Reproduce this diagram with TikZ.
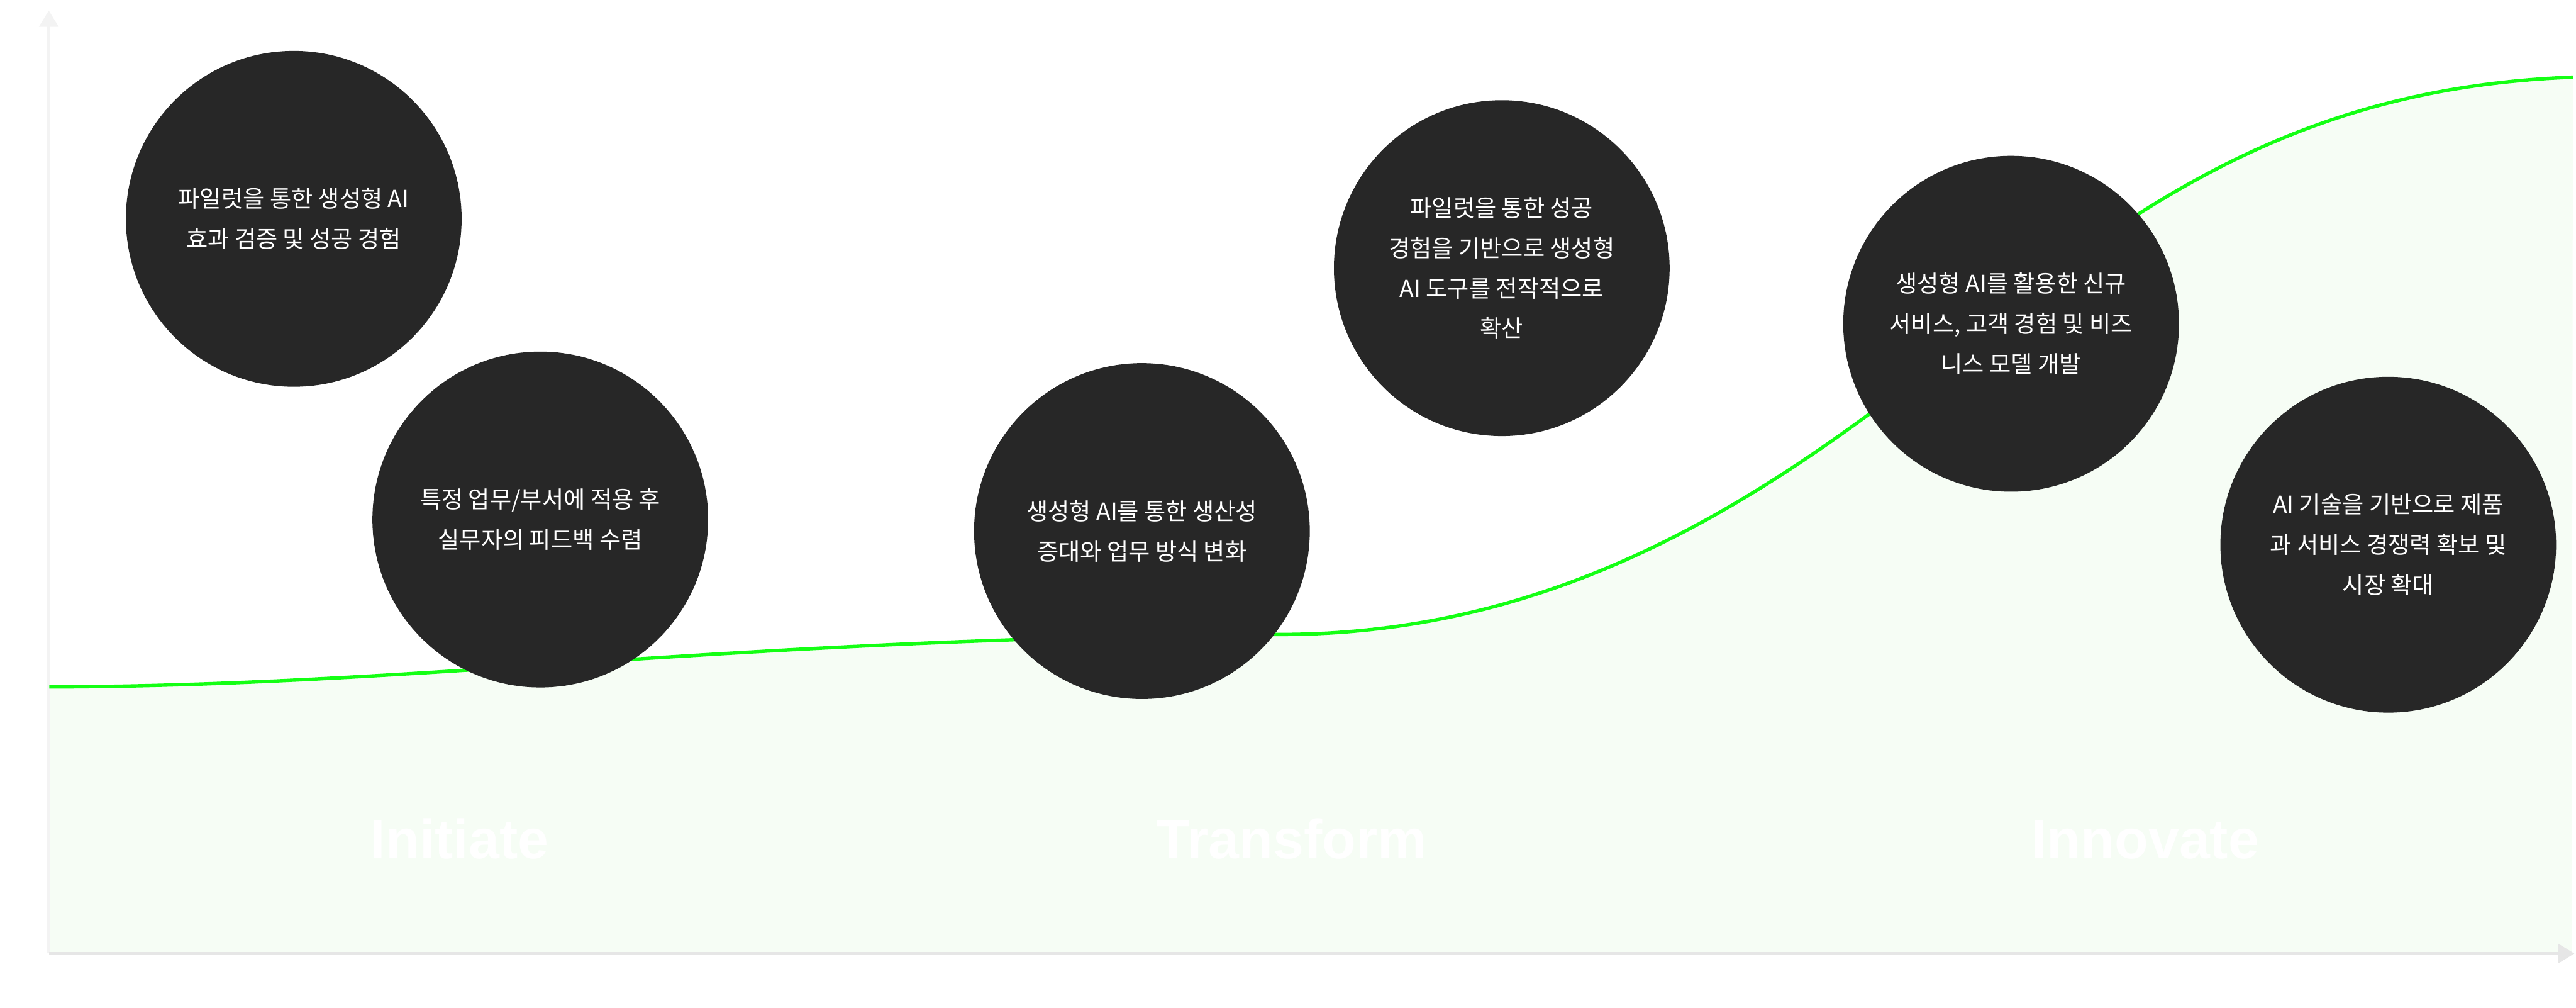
\documentclass[tikz,border=0pt]{standalone}
\usepackage{fontspec}
\setmainfont{Noto Sans CJK KR}
\newfontfamily\stagefont{Liberation Sans}
\usetikzlibrary{arrows.meta}

\definecolor{stepdark}{HTML}{272727}
\definecolor{curvegreen}{HTML}{14FF14}
\definecolor{areagreen}{HTML}{F6FDF5}
\definecolor{axisgray}{HTML}{E6E6E6}
\definecolor{axislight}{HTML}{F3F3F3}

\tikzset{
  stepcircle/.style={circle, fill=stepdark, text=white, minimum size=6.4cm,
    inner sep=0pt, align=center, font=\fontsize{12.7pt}{21.8pt}\selectfont},
  stagelabel/.style={text=white, anchor=base, font=\stagefont\bfseries\fontsize{30pt}{30pt}\selectfont},
  growth/.style={curvegreen, line width=0.065cm},
  axis/.style={line width=0.065cm, -{Triangle[width=0.36cm,length=0.31cm]}}
}

\begin{document}
\begin{tikzpicture}
	\useasboundingbox (0,0) rectangle (49.11,19.20);
	
	% Curve points
	\coordinate (orig) at (0.93,1.03);
	\coordinate (start) at (0.94,6.11);
	\coordinate (plateau) at (24.40,7.11);
	\coordinate (bend) at (38.00,13.13);
	\coordinate (top) at (49.05,17.73);
	
	% Area under the curve
	\fill[areagreen] (start) .. controls (8,6.13) and (14,7.05) .. (plateau)
		.. controls (30.4,7.11) and (34.5,10.37) .. (bend)
		.. controls (41.5,15.9) and (44.5,17.55) .. (top)
		-- (49.03,1.03) -- (orig) -- cycle;
	
	% Axes
	\draw[axis, axislight] (orig) -- (0.93,19.00);
	\draw[axis, axisgray] (orig) -- (49.08,1.03);
	
	% Growth curve
	\draw[growth] (start) .. controls (8,6.13) and (14,7.05) .. (plateau)
		.. controls (30.4,7.11) and (34.5,10.37) .. (bend)
		.. controls (41.5,15.9) and (44.5,17.55) .. (top);
	
	% Stage labels
	\node[stagelabel] (initiate) at (8.76,2.84) {Initiate};
	\node[stagelabel] (transform) at (24.62,2.84) {Transform};
	\node[stagelabel] (innovate) at (40.90,2.84) {Innovate};
	
	% Steps
	\node[stepcircle] (pilot) at (5.60,15.03) {파일럿을 통한 생성형 AI\\효과 검증 및 성공 경험};
	\node[stepcircle] (apply) at (10.30,9.30) {특정 업무/부서에 적용 후\\실무자의 피드백 수렴};
	\node[stepcircle] (boost) at (21.77,9.08) {생성형 AI를 통한 생산성\\증대와 업무 방식 변화};
	\node[stepcircle] (spread) at (28.63,14.09) {파일럿을 통한 성공\\경험을 기반으로 생성형\\AI 도구를 전작적으로\\확산};
	\node[stepcircle] (newbiz) at (38.34,13.03) {생성형 AI를 활용한 신규\\서비스, 고객 경험 및 비즈\\니스 모델 개발};
	\node[stepcircle] (market) at (45.53,8.82) {AI 기술을 기반으로 제품\\과 서비스 경쟁력 확보 및\\시장 확대};
	
\end{tikzpicture}
\end{document}
